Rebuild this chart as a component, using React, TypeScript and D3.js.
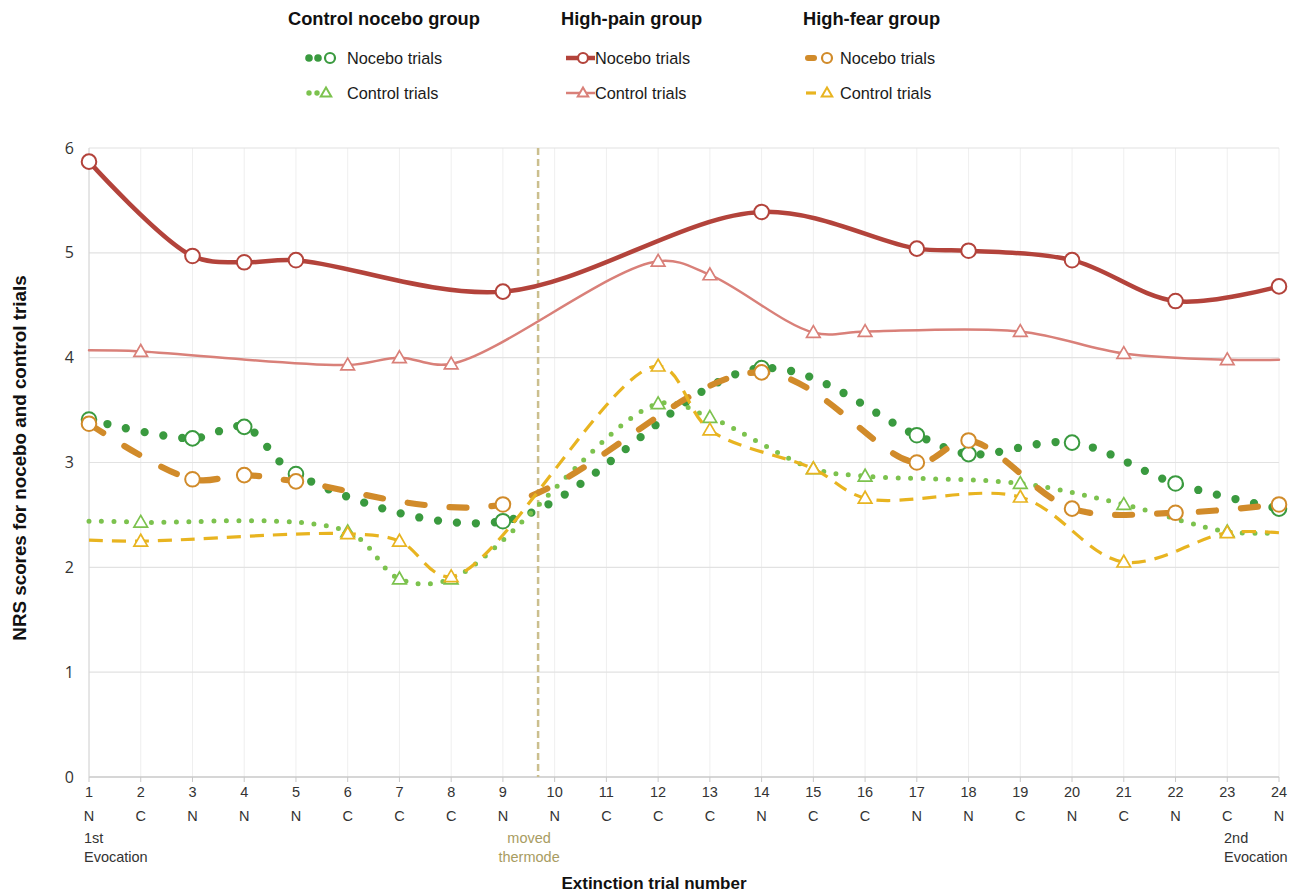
import React from "react";
import * as d3 from "d3";

// ---------- data ----------
const trialNumbers = [1, 2, 3, 4, 5, 6, 7, 8, 9, 10, 11, 12, 13, 14, 15, 16, 17, 18, 19, 20, 21, 22, 23, 24];
const trialTypes = ["N", "C", "N", "N", "N", "C", "C", "C", "N", "N", "C", "C", "C", "N", "C", "C", "N", "N", "C", "N", "C", "N", "C", "N"];
const yTicks = [0, 1, 2, 3, 4, 5, 6];
const thermodeTrial = 9.68;

// Control nocebo group
const controlGroupNocebo = [3.41, null, 3.23, 3.34, 2.89, null, null, null, 2.44, null, null, null, null, 3.9, null, null, 3.26, 3.08, null, 3.19, null, 2.8, null, 2.56];
const controlGroupControl = [2.44, 2.43, null, null, null, 2.34, 1.89, 1.89, null, null, null, 3.56, 3.43, null, 2.94, 2.87, null, null, 2.8, null, 2.6, null, 2.34, 2.33];
// High-pain group
const highPainNocebo = [5.87, null, 4.97, 4.91, 4.93, null, null, null, 4.63, null, null, null, null, 5.39, null, null, 5.04, 5.02, null, 4.93, null, 4.54, null, 4.68];
const highPainControl = [4.07, 4.06, null, null, null, 3.93, 4.0, 3.94, null, null, null, 4.92, 4.79, null, 4.24, 4.25, null, null, 4.25, null, 4.04, null, 3.98, 3.98];
// High-fear group
const highFearNocebo = [3.37, null, 2.84, 2.88, 2.82, null, null, null, 2.6, null, null, null, null, 3.86, null, null, 3.0, 3.21, null, 2.56, null, 2.52, null, 2.6];
const highFearControl = [2.26, 2.25, null, null, null, 2.32, 2.25, 1.91, null, null, null, 3.92, 3.31, null, 2.94, 2.66, null, null, 2.67, null, 2.05, null, 2.33, 2.33];

const groupNames = ["Control nocebo group", "High-pain group", "High-fear group"];

// ---------- styles ----------
type Style = {
  color: string;
  width: number;
  dash: string;
  cap: "round" | "butt";
  kind: "N" | "C";
};

const series: { values: (number | null)[]; style: Style; label: string }[] = [
  { values: controlGroupNocebo, label: "Nocebo trials", style: { color: "#3a9a3f", width: 8.3, dash: "0 19", cap: "round", kind: "N" } },
  { values: controlGroupControl, label: "Control trials", style: { color: "#7cc24e", width: 5, dash: "0 12.5", cap: "round", kind: "C" } },
  { values: highPainNocebo, label: "Nocebo trials", style: { color: "#b3433b", width: 4.5, dash: "", cap: "round", kind: "N" } },
  { values: highPainControl, label: "Control trials", style: { color: "#d98079", width: 2.5, dash: "", cap: "round", kind: "C" } },
  { values: highFearNocebo, label: "Nocebo trials", style: { color: "#d18b2a", width: 6.2, dash: "17 25", cap: "round", kind: "N" } },
  { values: highFearControl, label: "Control trials", style: { color: "#e8b420", width: 3.2, dash: "14 9", cap: "butt", kind: "C" } },
];

const W = 1298;
const H = 893;
const plot = { left: 89, right: 1279, top: 148, bottom: 777 };

const x = d3.scaleLinear().domain([1, 24]).range([plot.left, plot.right]);
const y = d3.scaleLinear().domain([0, 6]).range([plot.bottom, plot.top]);

const lineGen = d3
  .line<{ t: number; v: number }>()
  .x((d) => x(d.t))
  .y((d) => y(d.v))
  .curve(d3.curveCatmullRom.alpha(0.5));

const triPath = d3.symbol(d3.symbolTriangle, 80)() as string;
const triPathSmall = d3.symbol(d3.symbolTriangle, 48)() as string;

const AX_FONT = "'Liberation Sans', Arial, sans-serif";

function Marker({ kind, cx, cy, color, small }: { kind: "N" | "C"; cx: number; cy: number; color: string; small?: boolean }) {
  if (kind === "N") {
    return <circle cx={cx} cy={cy} r={small ? 5 : 7.3} fill="#fff" stroke={color} strokeWidth={small ? 2.2 : 2} />;
  }
  return (
    <path
      d={small ? triPathSmall : triPath}
      transform={`translate(${cx},${cy + (small ? 0.5 : 1)})`}
      fill="#fff"
      stroke={color}
      strokeWidth={small ? 2 : 1.7}
    />
  );
}

export default function App() {
  const legendCols = [
    { head: 288, sample: 304, text: 347 },
    { head: 561, sample: 566, text: 595 },
    { head: 803, sample: 805, text: 840 },
  ];
  const legendRows = [58, 93];

  return (
    <svg width={W} height={H} style={{ position: "absolute", left: 0, top: 0, background: "#fff" }} xmlns="http://www.w3.org/2000/svg">
      {/* vertical gridlines */}
      {trialNumbers.map((t) => (
        <line key={"vg" + t} x1={x(t)} x2={x(t)} y1={plot.top} y2={plot.bottom} stroke="#efefef" strokeWidth={1} />
      ))}
      {/* horizontal gridlines */}
      {yTicks.map((v) => (
        <line key={"hg" + v} x1={plot.left} x2={plot.right} y1={y(v)} y2={y(v)} stroke={v === 0 ? "#c8c8c8" : "#e2e2e2"} strokeWidth={v === 0 ? 1.5 : 1.2} />
      ))}
      {/* left axis line */}
      <line x1={plot.left} x2={plot.left} y1={plot.top} y2={plot.bottom} stroke="#d4d4d4" strokeWidth={1} />
      {/* x ticks */}
      {trialNumbers.map((t) => (
        <line key={"xt" + t} x1={x(t)} x2={x(t)} y1={plot.bottom} y2={plot.bottom + 5} stroke="#c8c8c8" strokeWidth={1} />
      ))}
      {/* y tick labels */}
      {yTicks.map((v) => (
        <text key={"yl" + v} x={74} y={y(v)} dy="0.35em" textAnchor="end" fontFamily="'Open Sans', sans-serif" fontSize={16} fill="#333">
          {v}
        </text>
      ))}
      {/* x tick labels */}
      {trialNumbers.map((t, i) => (
        <g key={"xl" + t} fontFamily={AX_FONT} fontSize={14.5} fill="#333" textAnchor="middle">
          <text x={x(t)} y={797}>{t}</text>
          <text x={x(t)} y={821}>{trialTypes[i]}</text>
        </g>
      ))}
      <g fontFamily={AX_FONT} fontSize={14.5} fill="#333">
        <text x={84} y={843}>1st</text>
        <text x={84} y={862}>Evocation</text>
        <text x={1224} y={843}>2nd</text>
        <text x={1224} y={862}>Evocation</text>
      </g>
      <g fontFamily={AX_FONT} fontSize={14.5} fill="#a89c62" textAnchor="middle">
        <text x={x(thermodeTrial) - 9} y={843}>moved</text>
        <text x={x(thermodeTrial) - 9} y={862}>thermode</text>
      </g>
      {/* axis titles */}
      <text x={654} y={889} textAnchor="middle" fontFamily={AX_FONT} fontWeight="bold" fontSize={17} fill="#111">
        Extinction trial number
      </text>
      <text
        transform={`translate(26,${458}) rotate(-90)`}
        textAnchor="middle"
        fontFamily={AX_FONT}
        fontWeight="bold"
        fontSize={18.8}
        fill="#111"
      >
        NRS scores for nocebo and control trials
      </text>

      {/* moved thermode line */}
      <line x1={x(thermodeTrial)} x2={x(thermodeTrial)} y1={plot.top} y2={plot.bottom} stroke="#cbbf8e" strokeWidth={2.5} strokeDasharray="7 4" />

      {/* series */}
      {series.map((s, si) => {
        const pts = s.values
          .map((v, i) => ({ t: trialNumbers[i], v, type: trialTypes[i] }))
          .filter((d) => d.v !== null) as { t: number; v: number; type: string }[];
        return (
          <g key={"s" + si}>
            <path
              d={lineGen(pts) as string}
              fill="none"
              stroke={s.style.color}
              strokeWidth={s.style.width}
              strokeDasharray={s.style.dash || undefined}
              strokeLinecap={s.style.cap}
              strokeLinejoin="round"
            />
            {pts
              .filter((d) => d.type === s.style.kind)
              .map((d) => (
                <Marker key={"m" + d.t} kind={s.style.kind} cx={x(d.t)} cy={y(d.v)} color={s.style.color} />
              ))}
          </g>
        );
      })}

      {/* legend */}
      {groupNames.map((g, gi) => (
        <text key={"gh" + gi} x={legendCols[gi].head} y={25} fontFamily={AX_FONT} fontWeight="bold" fontSize={18.3} fill="#111">
          {g}
        </text>
      ))}
      {series.map((s, si) => {
        const col = legendCols[Math.floor(si / 2)];
        const row = legendRows[si % 2];
        const gi = Math.floor(si / 2);
        let sample: React.ReactNode = null;
        if (gi === 0) {
          const r = s.style.kind === "N" ? 3.8 : 2.7;
          const xs = s.style.kind === "N" ? [309, 318] : [309, 317];
          sample = (
            <g>
              {xs.map((cx) => (
                <circle key={cx} cx={cx} cy={row} r={r} fill={s.style.color} />
              ))}
              <Marker kind={s.style.kind} cx={s.style.kind === "N" ? 330 : 326} cy={row} color={s.style.color} small />
            </g>
          );
        } else if (gi === 1) {
          sample = (
            <g>
              <line x1={col.sample} x2={col.text} y1={row} y2={row} stroke={s.style.color} strokeWidth={s.style.kind === "N" ? 4.5 : 2.5} />
              <Marker kind={s.style.kind} cx={583} cy={row} color={s.style.color} small />
            </g>
          );
        } else {
          sample = (
            <g>
              <line
                x1={s.style.kind === "N" ? 808 : 806}
                x2={s.style.kind === "N" ? 814 : 816}
                y1={row}
                y2={row}
                stroke={s.style.color}
                strokeWidth={s.style.kind === "N" ? 6 : 3.2}
                strokeLinecap={s.style.cap}
              />
              <Marker kind={s.style.kind} cx={827} cy={row} color={s.style.color} small />
            </g>
          );
        }
        return (
          <g key={"lg" + si}>
            {sample}
            <text x={col.text} y={row} dy="0.35em" fontFamily={AX_FONT} fontSize={16.3} fill="#1a1a1a">
              {s.label}
            </text>
          </g>
        );
      })}
    </svg>
  );
}
